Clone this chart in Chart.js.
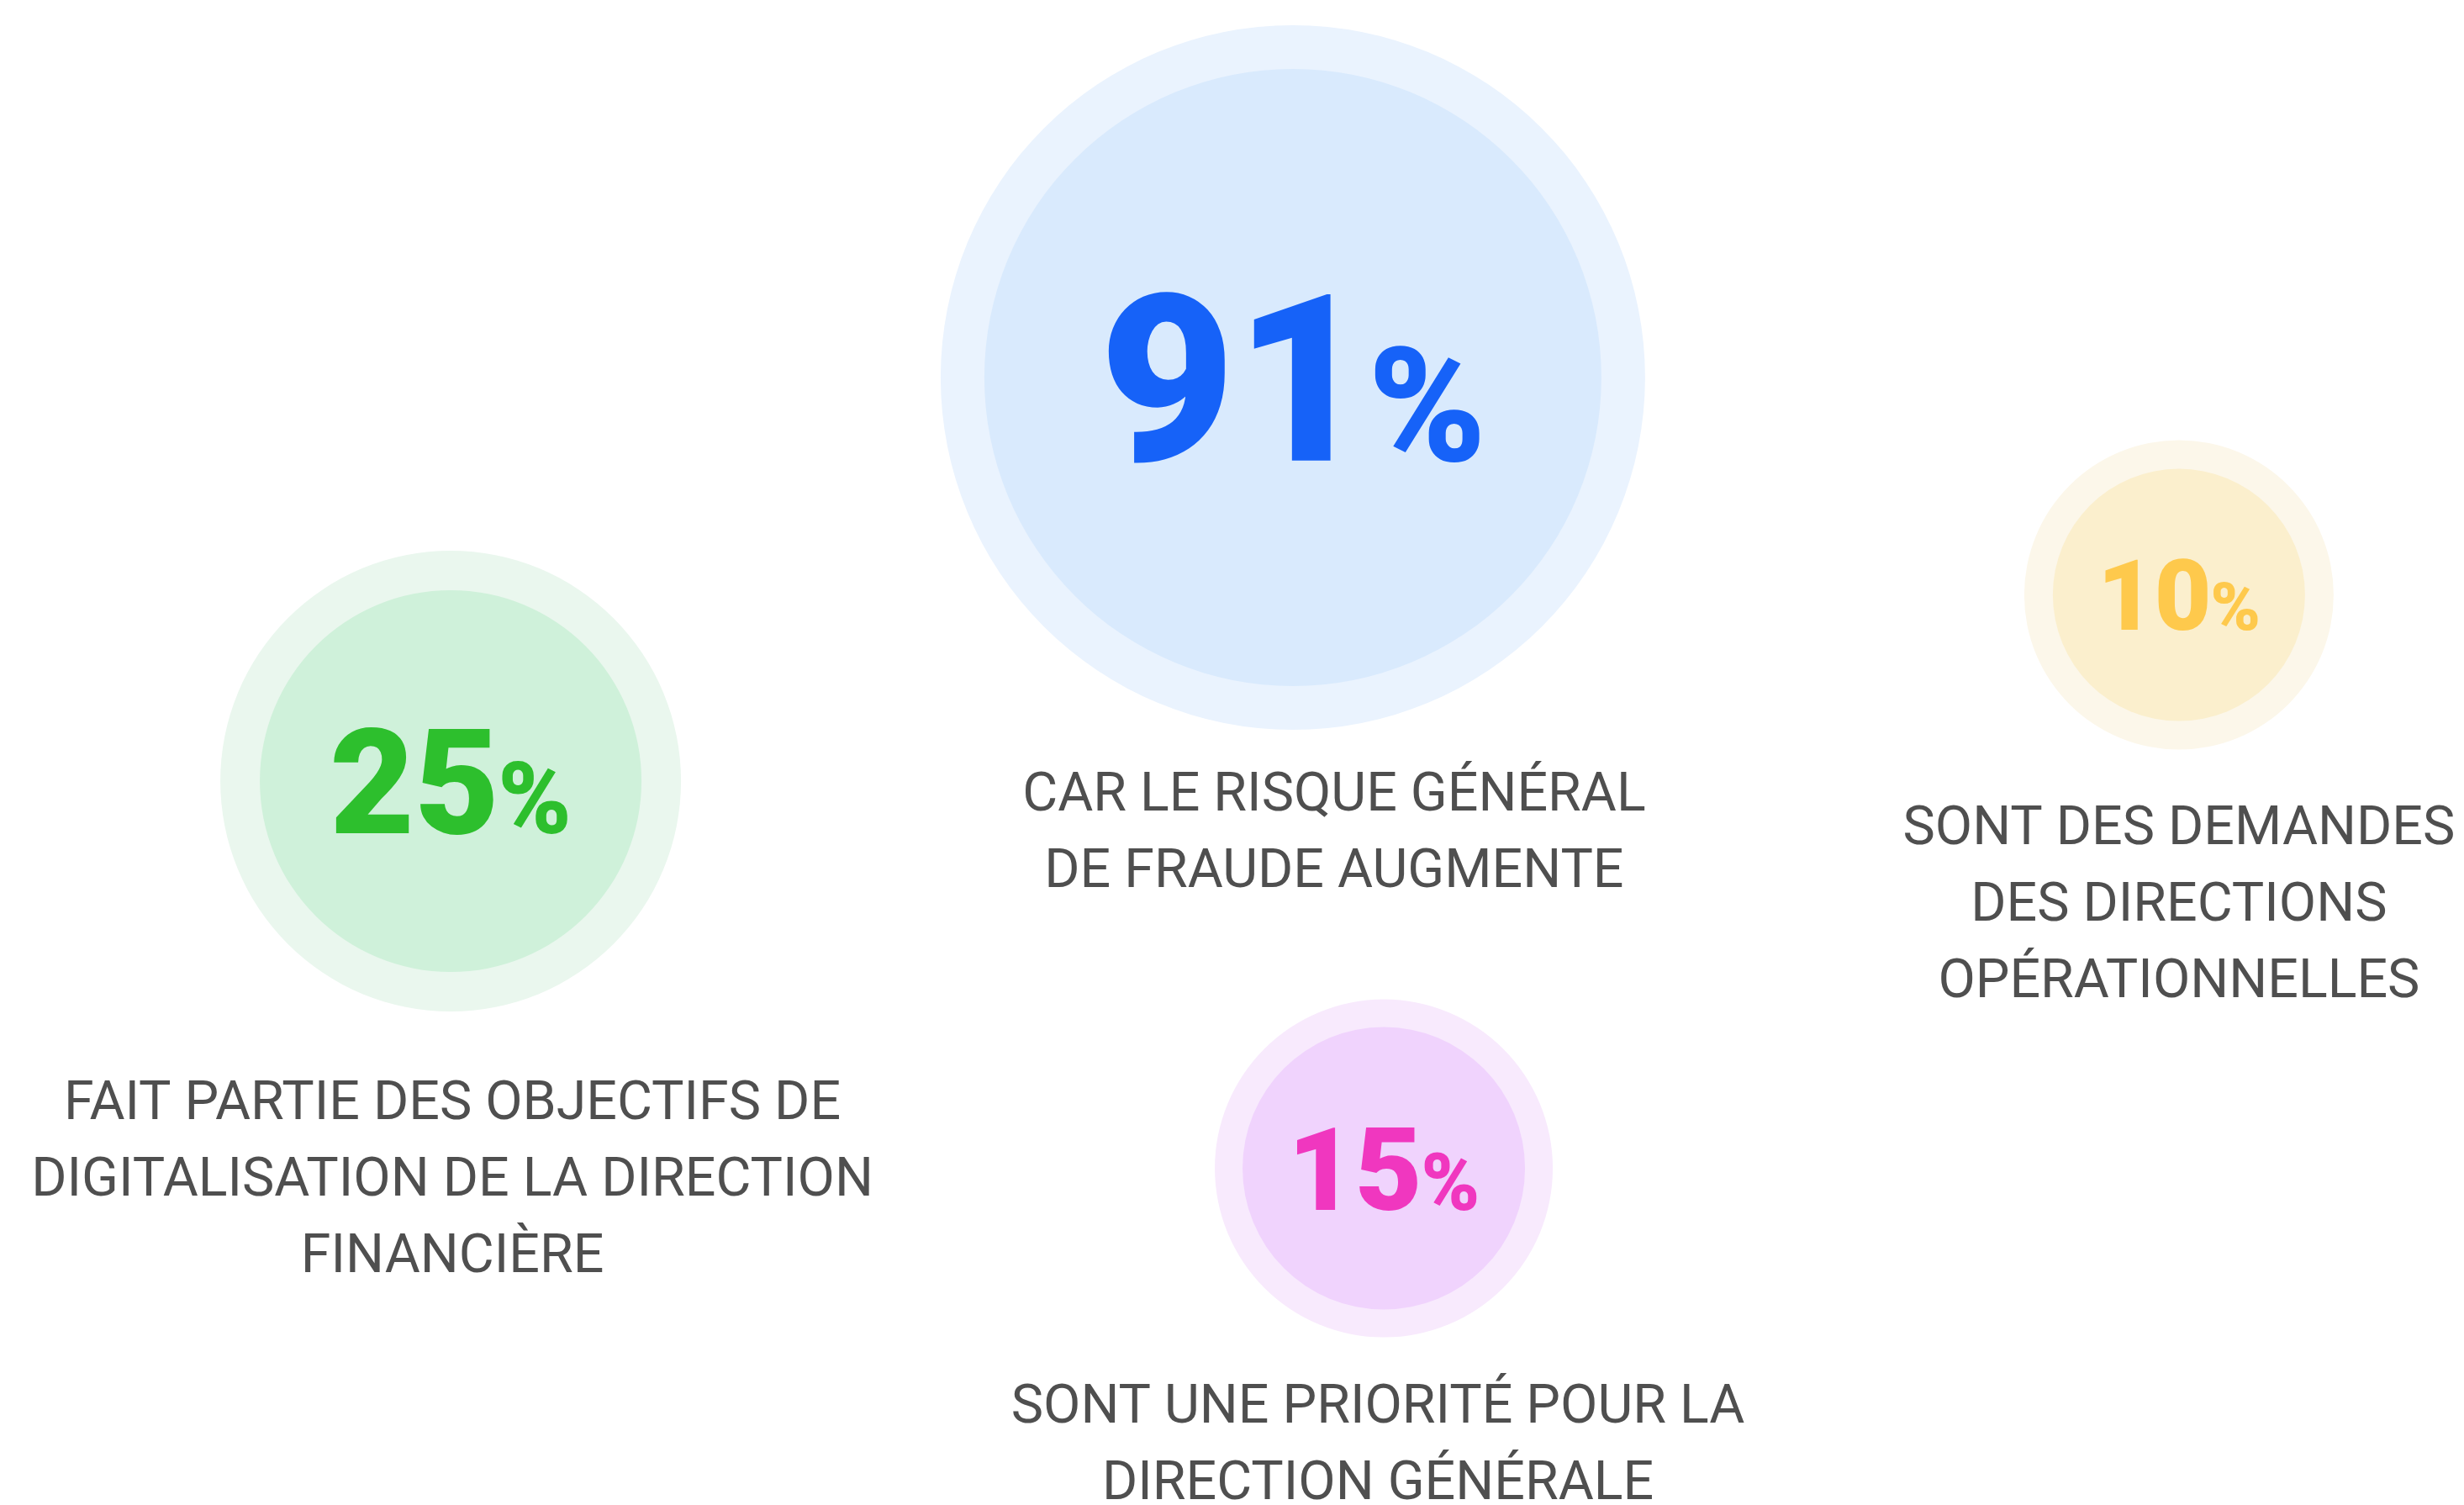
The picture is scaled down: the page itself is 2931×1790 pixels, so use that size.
<!DOCTYPE html>
<html>
<head>
<meta charset="utf-8">
<script src="https://cdn.jsdelivr.net/npm/chart.js@4.4.1/dist/chart.umd.min.js"></script>
<style>
  html, body { margin: 0; padding: 0; background: #ffffff; }
  #wrap { width: 2931px; height: 1790px; }
</style>
</head>
<body>
<div id="wrap"><canvas id="myChart" width="2931" height="1790"></canvas></div>
<script>
// data
const values = [91, 25, 10, 15];
const captions = [
    ["CAR LE RISQUE GÉNÉRAL", "DE FRAUDE AUGMENTE"],
    ["FAIT PARTIE DES OBJECTIFS DE", "DIGITALISATION DE LA DIRECTION", "FINANCIÈRE"],
    ["SONT DES DEMANDES", "DES DIRECTIONS", "OPÉRATIONNELLES"],
    ["SONT UNE PRIORITÉ POUR LA", "DIRECTION GÉNÉRALE"]
];

// layout of the bubbles, on a 0-100 grid
const posX = [52.47, 18.29, 88.43, 56.16];
const posY = [25.08, 51.90, 39.53, 77.63];

// styles
const innerRadius = [367, 227, 150, 168];
const outerRadius = [419, 274, 184, 201];
const innerColors = ["#d9eafd", "#cff1da", "#fbefcd", "#f0d3fd"];
const outerColors = ["#eaf3fe", "#eaf7ee", "#fcf7ea", "#f8eafd"];
const numberColors = ["#1662f8", "#2dbf2d", "#fec94c", "#f037bf"];
const numberSize = [278, 174, 117, 138];
const captionDx = [49, 2, 0, -7];
const captionDy = [515, 402, 296, 302];
const captionLine = 91;

const points = values.map((v, i) => ({ x: posX[i], y: posY[i] }));

const bubbleText = {
    id: "bubbleText",
    afterDatasetsDraw(chart) {
        const ctx = chart.ctx;
        const meta = chart.getDatasetMeta(0);
        meta.data.forEach((el, i) => {
            const cx = el.x;
            const cy = el.y;
            const big = numberSize[i];
            const small = Math.round(big * 0.68);
            const num = String(values[i]);
            ctx.save();
            ctx.textAlign = "left";
            ctx.textBaseline = "alphabetic";
            ctx.font = "900 " + big + "px Roboto";
            const w1 = ctx.measureText(num).width - big * 0.01;
            ctx.font = "900 " + small + "px Roboto";
            const w2 = ctx.measureText("%").width;
            const left = cx - (w1 + w2) / 2;
            const base = cy + big * 0.711 / 2;
            ctx.fillStyle = numberColors[i];
            ctx.font = "900 " + big + "px Roboto";
            ctx.fillText(num, left, base);
            ctx.font = "900 " + small + "px Roboto";
            ctx.fillText("%", left + w1, base);

            ctx.fillStyle = "#4f4f4f";
            ctx.font = "400 64.5px Roboto";
            ctx.textAlign = "center";
            captions[i].forEach((line, k) => {
                ctx.fillText(line, cx + captionDx[i], cy + captionDy[i] + k * captionLine);
            });
            ctx.restore();
        });
    }
};

const ctx = document.getElementById("myChart").getContext("2d");
const myChart = new Chart(ctx, {
    type: "bubble",
    data: {
        datasets: [
            {
                data: points,
                backgroundColor: innerColors,
                borderWidth: 0,
                radius: (c) => innerRadius[c.dataIndex],
                hoverRadius: 0,
                clip: false
            },
            {
                data: points,
                backgroundColor: outerColors,
                borderWidth: 0,
                radius: (c) => outerRadius[c.dataIndex],
                hoverRadius: 0,
                clip: false
            }
        ]
    },
    options: {
        responsive: false,
        animation: false,
        events: [],
        layout: { padding: 0, autoPadding: false },
        plugins: { legend: { display: false }, tooltip: { enabled: false } },
        scales: {
            x: { type: "linear", min: 0, max: 100, display: false },
            y: { type: "linear", min: 0, max: 100, reverse: true, display: false }
        }
    },
    plugins: [bubbleText]
});
</script>
</body>
</html>
